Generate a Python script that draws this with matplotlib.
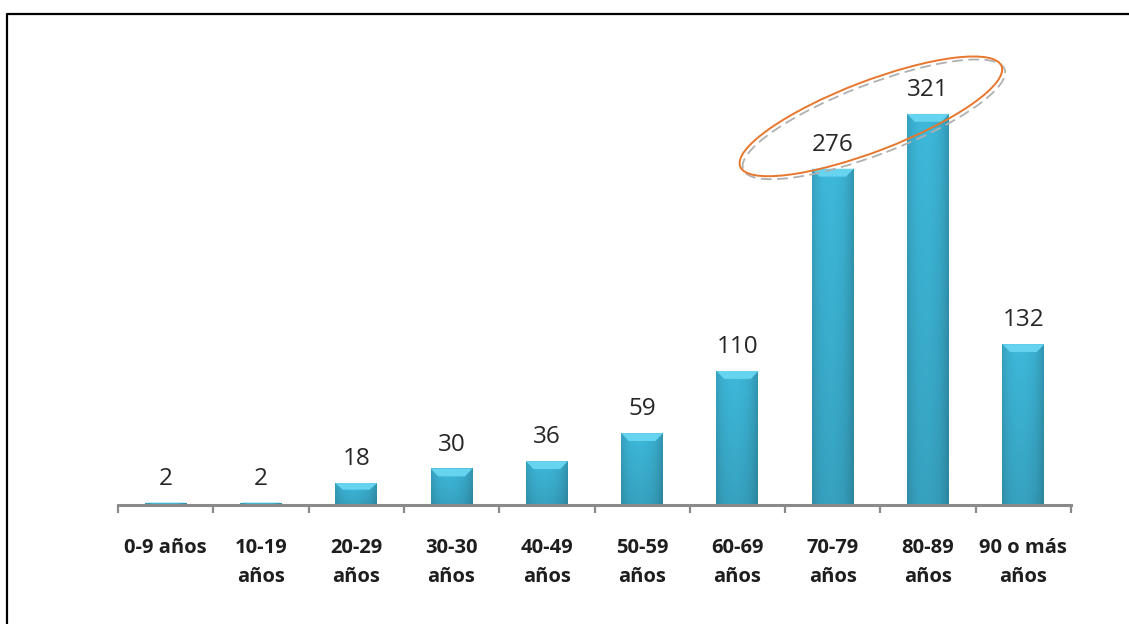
import numpy as np
import matplotlib
matplotlib.use("Agg")
import matplotlib.pyplot as plt
from matplotlib.patches import Rectangle, Polygon, Ellipse
from matplotlib.lines import Line2D
import matplotlib.transforms as mtransforms

categories = ["0-9 años", "10-19\naños", "20-29\naños", "30-30\naños", "40-49\naños",
              "50-59\naños", "60-69\naños", "70-79\naños", "80-89\naños", "90 o más\naños"]
values = [2, 2, 18, 30, 36, 59, 110, 276, 321, 132]

plt.rcParams['font.family'] = ['Open Sans', 'DejaVu Sans']

W, H, DPI = 1129, 624, 100
fig = plt.figure(figsize=(W / DPI, H / DPI), dpi=DPI)
fig.patch.set_facecolor("white")

ax = fig.add_axes([118 / W, 119 / H, 953 / W, 491 / H])
ax.set_xlim(-0.5, len(values) - 0.5)
ax.set_ylim(0, 403)
ax.set_facecolor("none")

for s in ["top", "right", "left"]:
    ax.spines[s].set_visible(False)
ax.spines["bottom"].set_color("#8a8a8a")
ax.spines["bottom"].set_linewidth(2.2)
ax.spines["bottom"].set_zorder(5)
ax.set_yticks([])

x = np.arange(len(values))
ax.set_xticks(x)
ax.set_xticklabels(categories, fontsize=14.5, fontweight="bold", color="#1e1e1e",
                   linespacing=1.6)
ax.tick_params(axis="x", which="major", length=0, pad=24)
ax.set_xticks(np.arange(-0.5, len(values)), minor=True)
ax.tick_params(axis="x", which="minor", length=6, width=1.6, color="#8a8a8a", direction="out")

# gradient bars
bw = 0.44
ny, nx = 64, 64
xs = np.linspace(-1, 1, nx)
hprof = 1.0 - 0.13 * np.abs(xs) ** 3
hprof = hprof - 0.06 * (xs > 0) * xs  # right side slightly darker
base = np.array([0x3e, 0xb8, 0xda]) / 255.0
for xi, v in zip(x, values):
    rect = Rectangle((xi - bw / 2, 0), bw, v, facecolor="none", edgecolor="none")
    ax.add_patch(rect)
    ys = np.linspace(1, 0, ny)[:, None]  # top -> bottom rows
    vprof = 0.88 + 0.12 * ys
    img = base[None, None, :] * (hprof[None, :, None] * vprof[:, :, None])
    img = np.clip(img, 0, 1)
    im = ax.imshow(img, extent=(xi - bw / 2, xi + bw / 2, 0, v), aspect="auto",
                   interpolation="bilinear", zorder=2, origin="upper")
    im.set_clip_path(rect)
    # top bevel
    bh = min(6.5, v * 0.3)
    inset = 0.08
    bevel = Polygon([(xi - bw / 2, v), (xi + bw / 2, v),
                     (xi + bw / 2 - inset, v - bh), (xi - bw / 2 + inset, v - bh)],
                    closed=True, facecolor="#66d4ef", edgecolor="none", zorder=3)
    ax.add_patch(bevel)
    ax.annotate(str(v), (xi, v), xytext=(0, 8.5), textcoords="offset points",
                ha="center", va="bottom", fontsize=17.5, color="#262626")

# highlight ellipse around the two largest bars
anchor = (7.4, 319)
for off, col, lw in [((3, -3), "#b0b0b0", 1.3), ((0, 0), "#e8772e", 1.4)]:
    tr = fig.dpi_scale_trans + mtransforms.ScaledTranslation(
        anchor[0], anchor[1], ax.transData) + mtransforms.Affine2D().translate(*off)
    e = Ellipse((0, 0), 2.80, 0.70, angle=21, transform=tr, fill=False,
                edgecolor=col, linewidth=lw, zorder=6,
                linestyle="-" if off == (0, 0) else (0, (6, 3)))
    e.set_clip_on(False)
    ax.add_artist(e)

# outer frame (top and left)
fig.add_artist(Line2D([7 / W, 7 / W, 1.0], [0.0, 1 - 14 / H, 1 - 14 / H],
                      transform=fig.transFigure, color="black", linewidth=1.6))

fig.savefig("out.png", dpi=DPI)
